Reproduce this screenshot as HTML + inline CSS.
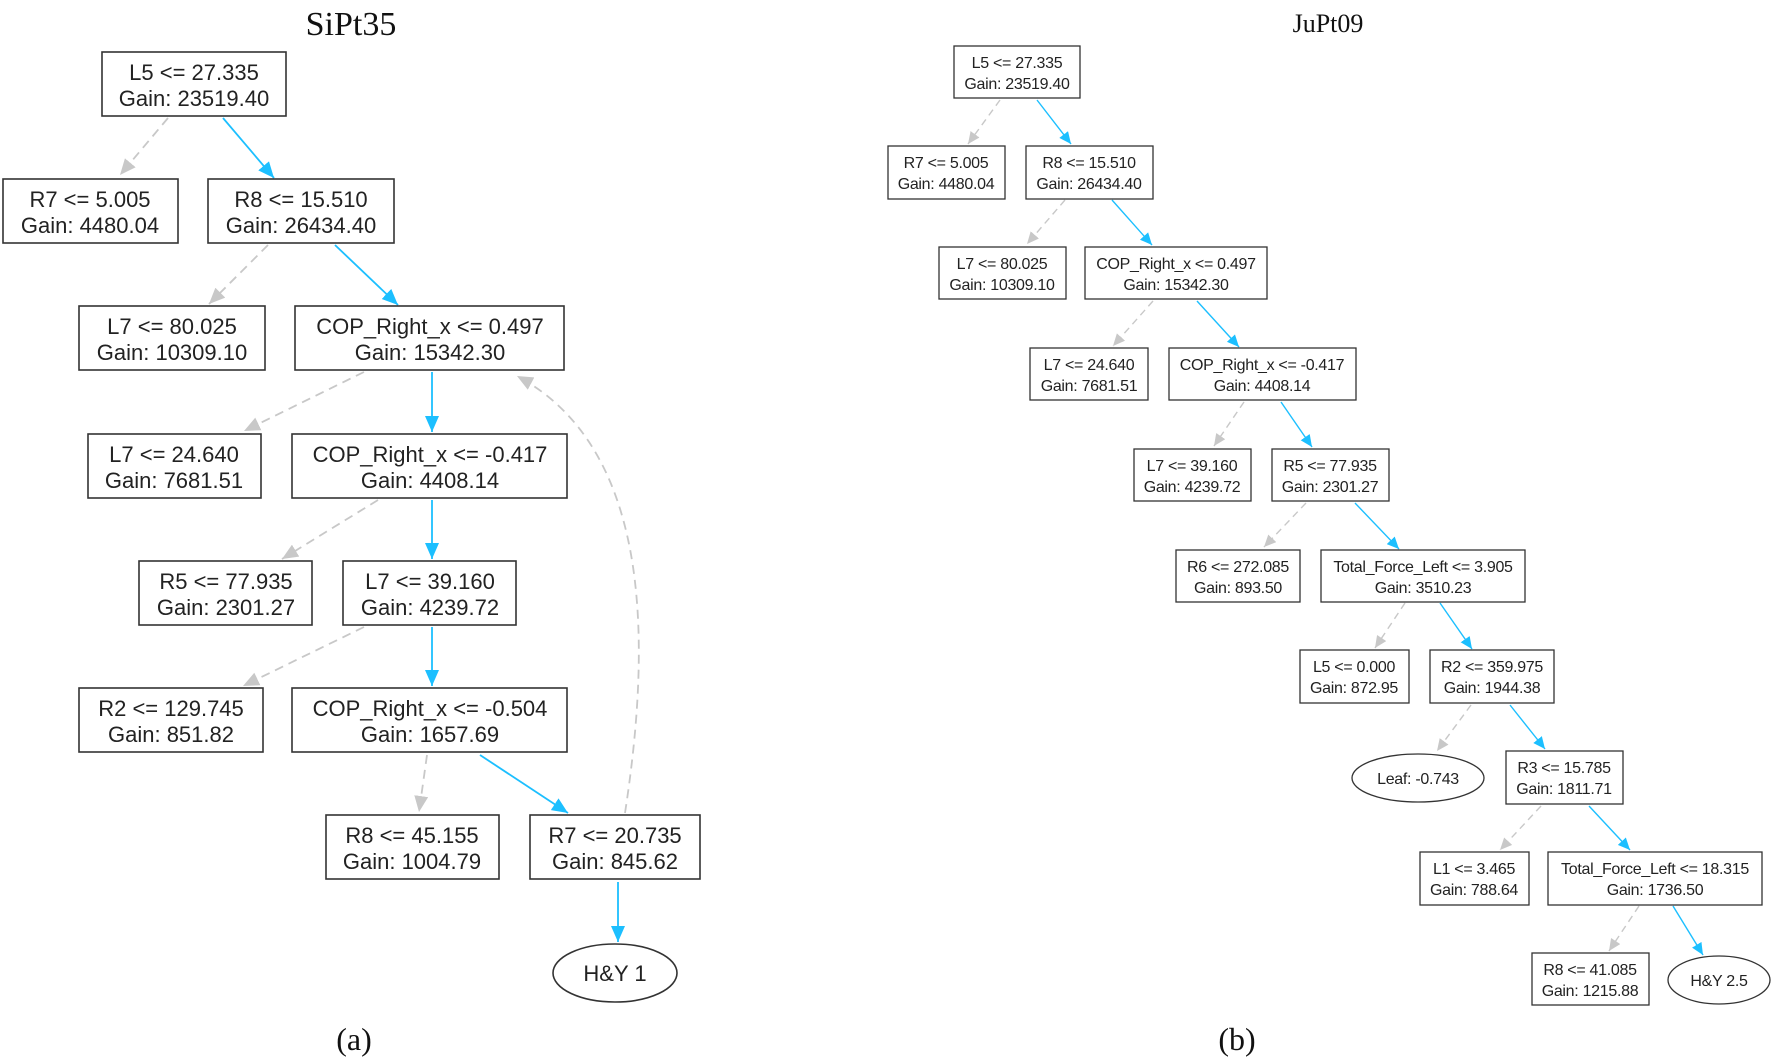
<!DOCTYPE html>
<html><head><meta charset="utf-8"><style>
html,body{margin:0;padding:0;background:#fff}
svg{display:block}
.b{fill:#fff;stroke:#333;stroke-width:1.6}
.b2{fill:#fff;stroke:#333;stroke-width:1.3}
.t{font-family:"Liberation Sans",sans-serif;font-size:22px;fill:#222;text-anchor:middle}
.s{font-family:"Liberation Sans",sans-serif;font-size:16px;fill:#222;text-anchor:middle;letter-spacing:-0.3px}
.bl{stroke:#1cbfff;stroke-width:1.8;fill:none}
.gr{stroke:#c8c8c8;stroke-width:1.8;fill:none;stroke-dasharray:9,6}
.bl2{stroke:#1cbfff;stroke-width:1.4;fill:none}
.gr2{stroke:#c8c8c8;stroke-width:1.4;fill:none;stroke-dasharray:7,5}
.ti{font-family:"Liberation Serif",serif;text-anchor:middle;fill:#111}
</style></head><body>
<svg width="1772" height="1060" viewBox="0 0 1772 1060" xmlns="http://www.w3.org/2000/svg">
<defs>
<marker id="mb" markerUnits="userSpaceOnUse" markerWidth="18" markerHeight="14" refX="16" refY="7" orient="auto"><path d="M0,0 L16,7 L0,14 z" fill="#1cbfff"/></marker>
<marker id="mg" markerUnits="userSpaceOnUse" markerWidth="18" markerHeight="14" refX="16" refY="7" orient="auto"><path d="M0,0 L16,7 L0,14 z" fill="#c8c8c8"/></marker>
<marker id="mb2" markerUnits="userSpaceOnUse" markerWidth="14" markerHeight="11" refX="12" refY="5.5" orient="auto"><path d="M0,0 L12,5.5 L0,11 z" fill="#1cbfff"/></marker>
<marker id="mg2" markerUnits="userSpaceOnUse" markerWidth="14" markerHeight="11" refX="12" refY="5.5" orient="auto"><path d="M0,0 L12,5.5 L0,11 z" fill="#c8c8c8"/></marker>
</defs>

<text class="ti" x="351" y="35" font-size="34">SiPt35</text>
<text class="ti" x="1328" y="32" font-size="26">JuPt09</text>
<text class="ti" x="354" y="1050" font-size="32">(a)</text>
<text class="ti" x="1237" y="1050" font-size="32">(b)</text>

<!-- left edges -->
<line class="gr" x1="168" y1="118" x2="120" y2="175" marker-end="url(#mg)"/>
<line class="bl" x1="223" y1="118" x2="274" y2="178" marker-end="url(#mb)"/>
<line class="gr" x1="268" y1="245" x2="209" y2="304" marker-end="url(#mg)"/>
<line class="bl" x1="335" y1="245" x2="398" y2="305" marker-end="url(#mb)"/>
<line class="gr" x1="364" y1="372" x2="244" y2="431" marker-end="url(#mg)"/>
<line class="bl" x1="432" y1="372" x2="432" y2="432" marker-end="url(#mb)"/>
<line class="gr" x1="378" y1="500" x2="282" y2="559" marker-end="url(#mg)"/>
<line class="bl" x1="432" y1="500" x2="432" y2="559" marker-end="url(#mb)"/>
<line class="gr" x1="364" y1="627" x2="243" y2="686" marker-end="url(#mg)"/>
<line class="bl" x1="432" y1="627" x2="432" y2="686" marker-end="url(#mb)"/>
<line class="gr" x1="427" y1="755" x2="419" y2="812" marker-end="url(#mg)"/>
<line class="bl" x1="480" y1="755" x2="568" y2="813" marker-end="url(#mb)"/>
<line class="bl" x1="618" y1="882" x2="618" y2="942" marker-end="url(#mb)"/>
<path class="gr" d="M625,813 C650,650 655,450 517,376" marker-end="url(#mg)"/>

<!-- left nodes -->
<rect class="b" x="102" y="52" width="184" height="64"/><text class="t" x="194" y="80">L5 &lt;= 27.335</text><text class="t" x="194" y="106">Gain: 23519.40</text>
<rect class="b" x="3" y="179" width="175" height="64"/><text class="t" x="90" y="207">R7 &lt;= 5.005</text><text class="t" x="90" y="233">Gain: 4480.04</text>
<rect class="b" x="208" y="179" width="186" height="64"/><text class="t" x="301" y="207">R8 &lt;= 15.510</text><text class="t" x="301" y="233">Gain: 26434.40</text>
<rect class="b" x="79" y="306" width="186" height="64"/><text class="t" x="172" y="334">L7 &lt;= 80.025</text><text class="t" x="172" y="360">Gain: 10309.10</text>
<rect class="b" x="295" y="306" width="269" height="64"/><text class="t" x="430" y="334">COP_Right_x &lt;= 0.497</text><text class="t" x="430" y="360">Gain: 15342.30</text>
<rect class="b" x="88" y="434" width="173" height="64"/><text class="t" x="174" y="462">L7 &lt;= 24.640</text><text class="t" x="174" y="488">Gain: 7681.51</text>
<rect class="b" x="292" y="434" width="275" height="64"/><text class="t" x="430" y="462">COP_Right_x &lt;= -0.417</text><text class="t" x="430" y="488">Gain: 4408.14</text>
<rect class="b" x="139" y="561" width="173" height="64"/><text class="t" x="226" y="589">R5 &lt;= 77.935</text><text class="t" x="226" y="615">Gain: 2301.27</text>
<rect class="b" x="343" y="561" width="173" height="64"/><text class="t" x="430" y="589">L7 &lt;= 39.160</text><text class="t" x="430" y="615">Gain: 4239.72</text>
<rect class="b" x="79" y="688" width="184" height="64"/><text class="t" x="171" y="716">R2 &lt;= 129.745</text><text class="t" x="171" y="742">Gain: 851.82</text>
<rect class="b" x="292" y="688" width="275" height="64"/><text class="t" x="430" y="716">COP_Right_x &lt;= -0.504</text><text class="t" x="430" y="742">Gain: 1657.69</text>
<rect class="b" x="326" y="815" width="173" height="64"/><text class="t" x="412" y="843">R8 &lt;= 45.155</text><text class="t" x="412" y="869">Gain: 1004.79</text>
<rect class="b" x="530" y="815" width="170" height="64"/><text class="t" x="615" y="843">R7 &lt;= 20.735</text><text class="t" x="615" y="869">Gain: 845.62</text>
<ellipse class="b" cx="615" cy="973" rx="62" ry="29"/><text class="t" x="615" y="981">H&amp;Y 1</text>

<!-- right edges -->
<line class="gr2" x1="1000" y1="100" x2="968" y2="144" marker-end="url(#mg2)"/>
<line class="bl2" x1="1037" y1="100" x2="1071" y2="144" marker-end="url(#mb2)"/>
<line class="gr2" x1="1065" y1="200" x2="1027" y2="244" marker-end="url(#mg2)"/>
<line class="bl2" x1="1112" y1="200" x2="1152" y2="245" marker-end="url(#mb2)"/>
<line class="gr2" x1="1153" y1="301" x2="1113" y2="346" marker-end="url(#mg2)"/>
<line class="bl2" x1="1197" y1="301" x2="1239" y2="347" marker-end="url(#mb2)"/>
<line class="gr2" x1="1244" y1="402" x2="1214" y2="446" marker-end="url(#mg2)"/>
<line class="bl2" x1="1281" y1="402" x2="1312" y2="447" marker-end="url(#mb2)"/>
<line class="gr2" x1="1306" y1="503" x2="1264" y2="547" marker-end="url(#mg2)"/>
<line class="bl2" x1="1355" y1="503" x2="1399" y2="549" marker-end="url(#mb2)"/>
<line class="gr2" x1="1405" y1="603" x2="1375" y2="648" marker-end="url(#mg2)"/>
<line class="bl2" x1="1440" y1="603" x2="1472" y2="649" marker-end="url(#mb2)"/>
<line class="gr2" x1="1471" y1="705" x2="1437" y2="751" marker-end="url(#mg2)"/>
<line class="bl2" x1="1510" y1="705" x2="1545" y2="749" marker-end="url(#mb2)"/>
<line class="gr2" x1="1541" y1="806" x2="1500" y2="850" marker-end="url(#mg2)"/>
<line class="bl2" x1="1589" y1="806" x2="1630" y2="850" marker-end="url(#mb2)"/>
<line class="gr2" x1="1639" y1="906" x2="1609" y2="951" marker-end="url(#mg2)"/>
<line class="bl2" x1="1673" y1="906" x2="1703" y2="955" marker-end="url(#mb2)"/>

<!-- right nodes -->
<rect class="b2" x="954" y="46" width="126" height="52"/><text class="s" x="1017" y="68">L5 &lt;= 27.335</text><text class="s" x="1017" y="89">Gain: 23519.40</text>
<rect class="b2" x="888" y="146" width="117" height="53"/><text class="s" x="946" y="168">R7 &lt;= 5.005</text><text class="s" x="946" y="189">Gain: 4480.04</text>
<rect class="b2" x="1026" y="146" width="127" height="53"/><text class="s" x="1089" y="168">R8 &lt;= 15.510</text><text class="s" x="1089" y="189">Gain: 26434.40</text>
<rect class="b2" x="939" y="247" width="127" height="52"/><text class="s" x="1002" y="269">L7 &lt;= 80.025</text><text class="s" x="1002" y="290">Gain: 10309.10</text>
<rect class="b2" x="1085" y="247" width="182" height="52"/><text class="s" x="1176" y="269">COP_Right_x &lt;= 0.497</text><text class="s" x="1176" y="290">Gain: 15342.30</text>
<rect class="b2" x="1030" y="348" width="118" height="52"/><text class="s" x="1089" y="370">L7 &lt;= 24.640</text><text class="s" x="1089" y="391">Gain: 7681.51</text>
<rect class="b2" x="1169" y="348" width="187" height="52"/><text class="s" x="1262" y="370">COP_Right_x &lt;= -0.417</text><text class="s" x="1262" y="391">Gain: 4408.14</text>
<rect class="b2" x="1134" y="449" width="117" height="52"/><text class="s" x="1192" y="471">L7 &lt;= 39.160</text><text class="s" x="1192" y="492">Gain: 4239.72</text>
<rect class="b2" x="1272" y="449" width="117" height="52"/><text class="s" x="1330" y="471">R5 &lt;= 77.935</text><text class="s" x="1330" y="492">Gain: 2301.27</text>
<rect class="b2" x="1176" y="550" width="124" height="52"/><text class="s" x="1238" y="572">R6 &lt;= 272.085</text><text class="s" x="1238" y="593">Gain: 893.50</text>
<rect class="b2" x="1321" y="550" width="204" height="52"/><text class="s" x="1423" y="572">Total_Force_Left &lt;= 3.905</text><text class="s" x="1423" y="593">Gain: 3510.23</text>
<rect class="b2" x="1300" y="650" width="109" height="53"/><text class="s" x="1354" y="672">L5 &lt;= 0.000</text><text class="s" x="1354" y="693">Gain: 872.95</text>
<rect class="b2" x="1430" y="650" width="124" height="53"/><text class="s" x="1492" y="672">R2 &lt;= 359.975</text><text class="s" x="1492" y="693">Gain: 1944.38</text>
<ellipse class="b2" cx="1418" cy="778" rx="66" ry="24"/><text class="s" x="1418" y="784">Leaf: -0.743</text>
<rect class="b2" x="1506" y="751" width="117" height="53"/><text class="s" x="1564" y="773">R3 &lt;= 15.785</text><text class="s" x="1564" y="794">Gain: 1811.71</text>
<rect class="b2" x="1420" y="852" width="109" height="53"/><text class="s" x="1474" y="874">L1 &lt;= 3.465</text><text class="s" x="1474" y="895">Gain: 788.64</text>
<rect class="b2" x="1548" y="852" width="214" height="53"/><text class="s" x="1655" y="874">Total_Force_Left &lt;= 18.315</text><text class="s" x="1655" y="895">Gain: 1736.50</text>
<rect class="b2" x="1532" y="953" width="117" height="52"/><text class="s" x="1590" y="975">R8 &lt;= 41.085</text><text class="s" x="1590" y="996">Gain: 1215.88</text>
<ellipse class="b2" cx="1719" cy="980" rx="51" ry="24"/><text class="s" x="1719" y="986">H&amp;Y 2.5</text>
</svg>
</body></html>
